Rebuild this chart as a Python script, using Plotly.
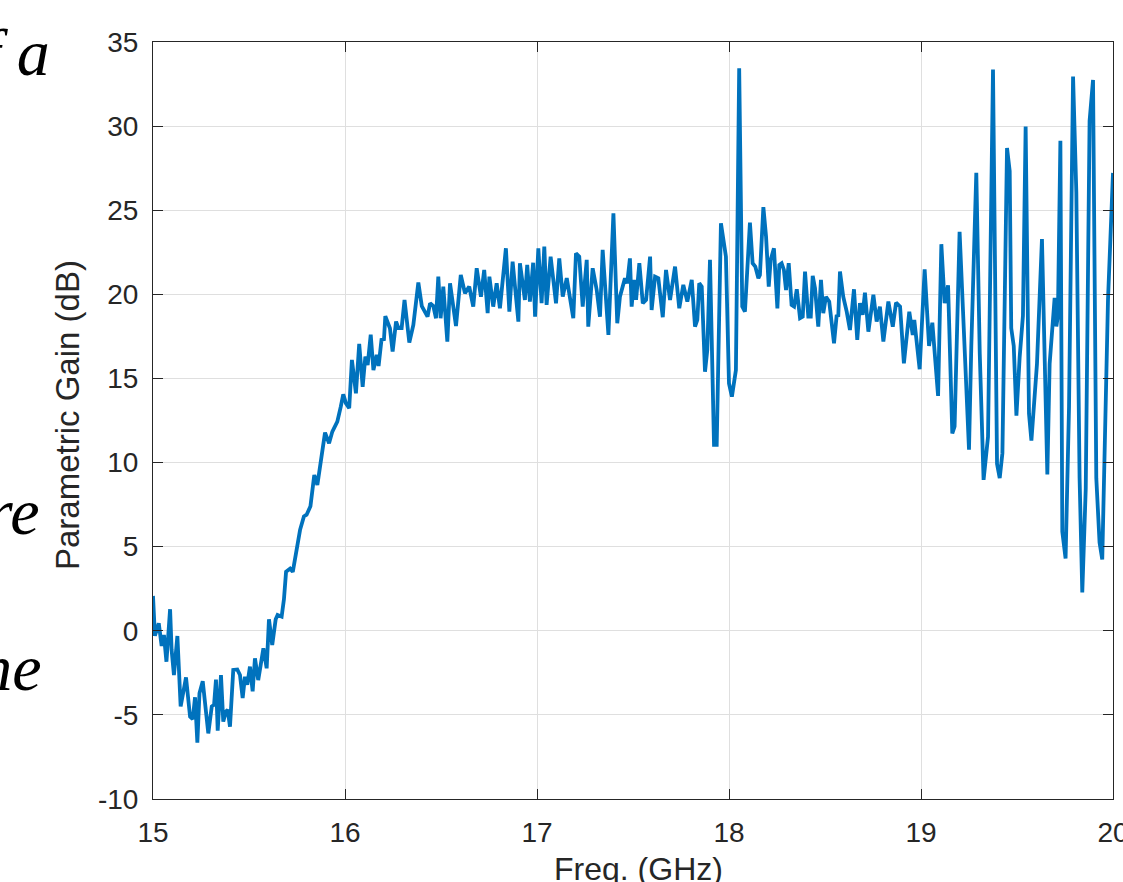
import plotly.graph_objects as go

freq_ghz = [
    15.000, 15.010, 15.030, 15.036, 15.045, 15.057, 15.070, 15.089, 15.097, 15.109,
    15.127, 15.144, 15.172, 15.193, 15.207, 15.219, 15.231, 15.242, 15.259, 15.288,
    15.306, 15.318, 15.328, 15.337, 15.354, 15.366, 15.380, 15.389, 15.401, 15.418,
    15.439, 15.453, 15.467, 15.479, 15.491, 15.505, 15.519, 15.531, 15.548, 15.561,
    15.575, 15.592, 15.604, 15.621, 15.639, 15.649, 15.670,
    15.682, 15.693, 15.714, 15.728, 15.766, 15.786, 15.800, 15.820, 15.840, 15.856,
    15.896, 15.917, 15.934, 15.960, 15.978, 15.991, 16.005, 16.022, 16.036, 16.057,
    16.074, 16.092, 16.106, 16.118, 16.134, 16.148, 16.165, 16.175, 16.190, 16.203,
    16.210, 16.226, 16.234, 16.248, 16.266, 16.278, 16.295, 16.310, 16.335, 16.356,
    16.382,
    16.400, 16.430, 16.443, 16.460, 16.474, 16.486, 16.498, 16.512, 16.533, 16.547,
    16.578, 16.603, 16.625, 16.647, 16.668, 16.686, 16.708, 16.725, 16.743, 16.752,
    16.772, 16.790, 16.807, 16.838, 16.856, 16.873, 16.903, 16.911, 16.937, 16.949,
    16.963, 16.980, 16.990, 17.007, 17.024, 17.038, 17.050, 17.071, 17.099, 17.116,
    17.134, 17.155, 17.189, 17.203, 17.220, 17.238, 17.259, 17.267, 17.290, 17.311,
    17.328, 17.342, 17.372, 17.398, 17.418,
    17.432, 17.458, 17.470, 17.484, 17.493, 17.505, 17.516, 17.533, 17.551, 17.568,
    17.589, 17.597, 17.615, 17.632, 17.655, 17.672, 17.693, 17.719, 17.741, 17.762,
    17.783, 17.806, 17.823, 17.835, 17.845,
    17.858, 17.875, 17.887, 17.901, 17.922, 17.936, 17.958, 17.984, 18.000, 18.015,
    18.036, 18.053, 18.069, 18.083, 18.109, 18.123, 18.137, 18.153, 18.161, 18.179,
    18.193, 18.207, 18.217, 18.234, 18.252, 18.262, 18.274, 18.286, 18.297, 18.311,
    18.326, 18.339, 18.353, 18.370, 18.384, 18.396, 18.413, 18.426, 18.436, 18.448,
    18.465, 18.479, 18.491, 18.505, 18.522, 18.547, 18.561, 18.569, 18.578, 18.595,
    18.613, 18.630, 18.651, 18.668, 18.682, 18.696, 18.708, 18.726,
    18.752, 18.769, 18.786, 18.804, 18.830, 18.853, 18.870, 18.891, 18.911, 18.939,
    18.957, 18.965,
    18.993, 19.019, 19.042, 19.059, 19.089, 19.106, 19.123, 19.141, 19.163, 19.175,
    19.201, 19.227, 19.250, 19.262, 19.288, 19.306, 19.326, 19.349, 19.375, 19.396,
    19.410, 19.424, 19.448, 19.462, 19.470, 19.483, 19.497, 19.514, 19.531, 19.545,
    19.5625, 19.575, 19.604, 19.630, 19.658, 19.670, 19.696, 19.705, 19.713, 19.726,
    19.736, 19.753, 19.771, 19.792, 19.809, 19.826, 19.840, 19.858, 19.878, 19.896,
    19.913, 19.930, 19.944, 19.974, 20.000,
]

gain_db = [
    2.07, -0.30, 0.45, -0.05, -0.90, -0.25, -1.84, 1.28, -1.14, -2.63,
    -0.31, -4.50, -2.77, -5.10, -5.25, -3.95, -6.65, -3.72, -3.00, -6.10,
    -4.50, -4.40, -2.90, -5.94, -2.63, -5.40, -4.80, -4.70, -5.70, -2.33,
    -2.30, -2.63, -4.00, -2.73, -3.20, -2.13, -3.60, -1.64, -2.93, -2.03,
    -1.04, -2.23, 0.68, -0.85, 0.68, 0.94, 0.84,
    1.87, 3.51, 3.70, 3.50, 6.00, 6.80, 6.90, 7.40, 9.26, 8.67,
    11.78, 11.15, 11.84, 12.43, 13.32, 14.06, 13.52, 13.23, 16.10, 14.12,
    17.05, 14.50, 16.30, 15.80, 17.60, 15.50, 16.40, 15.74, 17.30, 17.33,
    18.70, 18.28, 17.98, 16.60, 18.38, 18.00, 18.00, 19.67, 17.13, 18.18,
    20.70,
    19.30, 18.67, 19.47, 19.30, 18.58, 21.05, 18.58, 20.46, 17.19, 20.66,
    18.12, 21.15, 20.06, 20.46, 19.27, 21.55, 19.86, 21.45, 18.88, 21.05,
    19.27, 20.66, 19.17, 22.74, 18.97, 21.94, 18.38, 21.85, 19.67, 21.75,
    19.57, 21.88, 18.67, 22.74, 19.47, 22.84, 19.37, 22.24, 19.47, 22.14,
    19.86, 20.96, 18.58, 22.44, 22.24, 19.27, 22.05, 18.08, 21.55, 20.26,
    18.67, 22.64, 17.59, 24.82, 18.28,
    19.86, 20.96, 20.66, 22.14, 19.27, 20.86, 19.67, 21.85, 19.47, 19.67,
    22.24, 19.07, 21.05, 20.96, 18.64, 21.45, 19.67, 21.65, 19.17, 20.56,
    19.57, 20.86, 18.08, 18.48, 20.66,
    20.46, 15.40, 16.70, 22.05, 11.05, 11.05, 24.23, 22.24, 14.70, 13.92,
    15.50, 33.44, 19.27, 18.97, 24.26, 21.85, 21.65, 20.96, 21.15, 25.18,
    23.43, 20.46, 22.05, 22.74, 19.17, 21.75, 21.85, 21.45, 20.26, 21.85,
    19.37, 19.27, 20.30, 18.58, 18.67, 21.35, 18.67, 18.67, 21.10, 20.36,
    18.08, 20.86, 18.88, 19.86, 19.57, 17.09, 18.78, 18.67, 21.35, 19.86,
    18.97, 17.88, 20.30, 17.29, 19.47, 18.78, 20.10, 17.78,
    19.97, 18.38, 19.27, 17.19, 19.57, 18.08, 19.50, 19.27, 15.90, 18.97,
    17.59, 18.48,
    15.55, 21.49, 16.93, 18.31, 13.96, 22.98, 19.47, 20.53, 11.73, 12.15,
    23.72, 16.50, 10.77, 16.93, 27.22, 16.50, 8.97, 11.52, 33.37, 9.92,
    9.08, 10.56, 28.70, 27.33, 17.99, 16.93, 12.79, 16.29, 18.73, 29.98,
    12.90, 11.30, 15.87, 23.29, 9.29, 15.87, 19.79, 18.09, 18.73, 29.13,
    5.89, 4.30, 13.32, 32.95, 26.05, 9.07, 2.28, 8.44, 30.30, 32.74,
    9.07, 5.25, 4.24, 19.69, 27.22,
]

x_ticks = [15, 16, 17, 18, 19, 20]
y_ticks = [-10, -5, 0, 5, 10, 15, 20, 25, 30, 35]
x_title = "Freq. (GHz)"
y_title = "Parametric Gain (dB)"
side_text = ["of a", "are", "the"]

W, H = 1123, 882
L, R, T, B = 153, 10, 42, 83
pw, ph = W - L - R, H - T - B


def px_x(p):
    return (p - L) / pw


def px_y(p):
    return (H - B - p) / ph


fig = go.Figure()
fig.add_trace(go.Scatter(
    x=freq_ghz, y=gain_db, mode="lines",
    line=dict(color="#0072BD", width=3.8),
    showlegend=False, hoverinfo="skip",
))

axis_common = dict(
    showline=True, linecolor="#262626", linewidth=1, mirror="ticks",
    ticks="inside", ticklen=10, tickcolor="#262626", tickwidth=1,
    showgrid=True, gridcolor="#dfdfdf", gridwidth=1, zeroline=False,
    tickfont=dict(family="Liberation Sans, Arial, sans-serif", size=28, color="#262626"),
    automargin=False, ticklabeloverflow="allow",
)

fig.update_xaxes(range=[15, 20], tickvals=x_ticks, ticktext=[str(v) for v in x_ticks],
                 ticklabelstandoff=8, **axis_common)
fig.update_yaxes(range=[-10, 35], tickvals=y_ticks, ticktext=[str(v) for v in y_ticks],
                 ticklabelstandoff=8, **axis_common)

annotations = [
    dict(text=x_title, xref="paper", yref="paper", x=px_x(638), y=px_y(869),
         xanchor="center", yanchor="middle", showarrow=False,
         font=dict(family="Liberation Sans, Arial, sans-serif", size=32, color="#262626")),
    dict(text=y_title, xref="paper", yref="paper", x=px_x(67), y=px_y(415),
         xanchor="center", yanchor="middle", textangle=-90, showarrow=False,
         font=dict(family="Liberation Sans, Arial, sans-serif", size=33, color="#262626")),
]
side_pos = [(52, 52), (42, 512), (44, 667)]
for txt, (rx, cy) in zip(side_text, side_pos):
    annotations.append(dict(
        text="<i>" + txt + "</i>", xref="paper", yref="paper", x=px_x(rx), y=px_y(cy),
        xanchor="right", yanchor="middle", showarrow=False,
        font=dict(family="Liberation Serif, Times New Roman, serif", size=66, color="#000000"),
    ))

fig.update_layout(
    width=W, height=H,
    margin=dict(l=L, r=R, t=T, b=B, pad=0),
    paper_bgcolor="white", plot_bgcolor="white",
    annotations=annotations,
    showlegend=False,
)

fig.write_html(
    "out.html",
    config={"displayModeBar": False},
    post_script="document.body.style.margin='0';document.body.style.overflow='hidden';",
)
